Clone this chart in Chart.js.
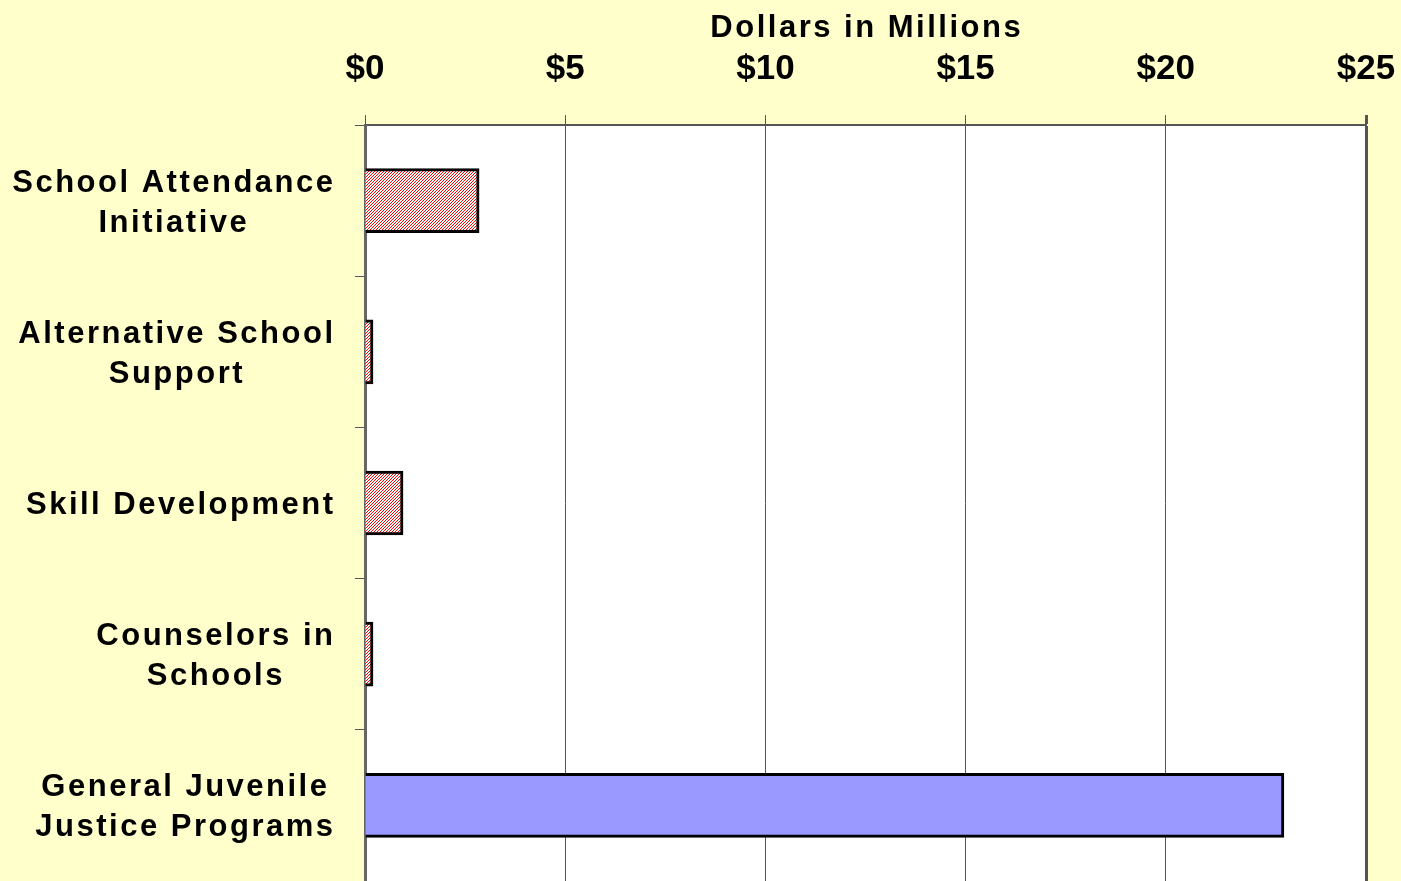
<!DOCTYPE html>
<html>
<head>
<meta charset="utf-8">
<script src="https://cdn.jsdelivr.net/npm/chart.js@4.4.1/dist/chart.umd.min.js"></script>
<style>
  html, body { margin: 0; padding: 0; background: #FFFFCC; }
  #wrap { width: 1401px; height: 881px; }
</style>
</head>
<body>
<div id="wrap"><canvas id="myChart" width="1401" height="881"></canvas></div>
<script>
//Chart data
const categories = [
  ["School Attendance", "Initiative"],
  ["Alternative School", "Support"],
  ["Skill Development"],
  ["Counselors in", "Schools"],
  ["General Juvenile", "Justice Programs"],
];
const amounts = [2.85, 0.2, 0.95, 0.2, 22.95];
const xTicks = [0, 5, 10, 15, 20, 25];
const axisTitle = "Dollars in Millions";

//Hatched fill for the first four bars
function makeHatch() {
  const c = document.createElement("canvas");
  c.width = 3;
  c.height = 3;
  const p = c.getContext("2d");
  p.fillStyle = "#ffffff";
  p.fillRect(0, 0, 3, 3);
  p.fillStyle = "#ff0000";
  for (let i = 0; i < 3; i++) {
    p.fillRect(i, 2 - i, 1, 1);
  }
  return p.createPattern(c, "repeat");
}

const ctx = document.getElementById("myChart").getContext("2d");
const hatch = makeHatch();

//Backgrounds: yellow page, white plot area
const bgPlugin = {
  id: "bg",
  beforeDraw(chart) {
    const c = chart.ctx;
    const a = chart.chartArea;
    c.save();
    c.fillStyle = "#FFFFCC";
    c.fillRect(0, 0, chart.width, chart.height);
    c.fillStyle = "#ffffff";
    c.fillRect(a.left, a.top, a.right - a.left, a.bottom - a.top);
    c.restore();
  },
};

//Category labels (block right aligned, lines centered) and axis title
const textPlugin = {
  id: "texts",
  afterDraw(chart) {
    const c = chart.ctx;
    const y = chart.scales.y;
    const x = chart.scales.x;
    const sp = 2.5;
    c.save();
    c.fillStyle = "#000000";
    c.letterSpacing = sp + "px";
    c.textBaseline = "alphabetic";
    c.textAlign = "center";

    c.font = "bold 31px 'Liberation Sans', Arial, sans-serif";
    const rightEdge = 333;
    categories.forEach((lines, i) => {
      const cy = y.getPixelForValue(i);
      let widest = 0;
      lines.forEach((l) => {
        widest = Math.max(widest, c.measureText(l).width - sp);
      });
      const cx = rightEdge - widest / 2;
      lines.forEach((l, j) => {
        const by = cy + (j - (lines.length - 1) / 2) * 40 + 11;
        c.fillText(l, cx + sp / 2, by);
      });
    });

    c.fillText(axisTitle, (x.left + x.right) / 2 + sp / 2, 37);
    c.restore();
  },
};

const config = {
  type: "bar",
  data: {
    labels: categories,
    datasets: [
      {
        data: amounts,
        backgroundColor: amounts.map((v, i) => (i < 4 ? hatch : "#9999FF")),
        borderColor: "#000000",
        borderWidth: 3,
        borderSkipped: "start",
        barThickness: 64,
      },
    ],
  },
  options: {
    indexAxis: "y",
    responsive: false,
    animation: false,
    layout: { padding: { left: 0, right: 35, top: 0, bottom: 0 } },
    plugins: {
      legend: { display: false },
      tooltip: { enabled: false },
    },
    scales: {
      x: {
        position: "top",
        min: 0,
        max: 25,
        afterBuildTicks: (scale) => {
          scale.ticks = xTicks.map((v) => ({ value: v }));
        },
        afterFit: (scale) => {
          scale.height = 125;
          scale.paddingLeft = 0;
          scale.paddingRight = 0;
        },
        ticks: {
          callback: (v) => "$" + v,
          color: "#000000",
          font: { family: "'Liberation Sans', Arial, sans-serif", size: 35, weight: "bold" },
          padding: 25,
          maxRotation: 0,
        },
        grid: {
          color: "#555555",
          lineWidth: (c) => (c.tick && c.tick.value === 25 ? 3 : 1),
          tickLength: 10,
          tickColor: "#555555",
        },
        border: { display: true, color: "#555555", width: 2 },
      },
      y: {
        afterFit: (scale) => {
          scale.width = 365;
          scale.paddingTop = 0;
          scale.paddingBottom = 0;
        },
        ticks: {
          callback: () => "",
        },
        grid: {
          drawOnChartArea: false,
          offset: true,
          tickLength: 10,
          tickColor: "#555555",
        },
        border: { display: true, color: "#666666", width: 3 },
      },
    },
  },
  plugins: [bgPlugin, textPlugin],
};

const myChart = new Chart(ctx, config);
</script>
</body>
</html>
